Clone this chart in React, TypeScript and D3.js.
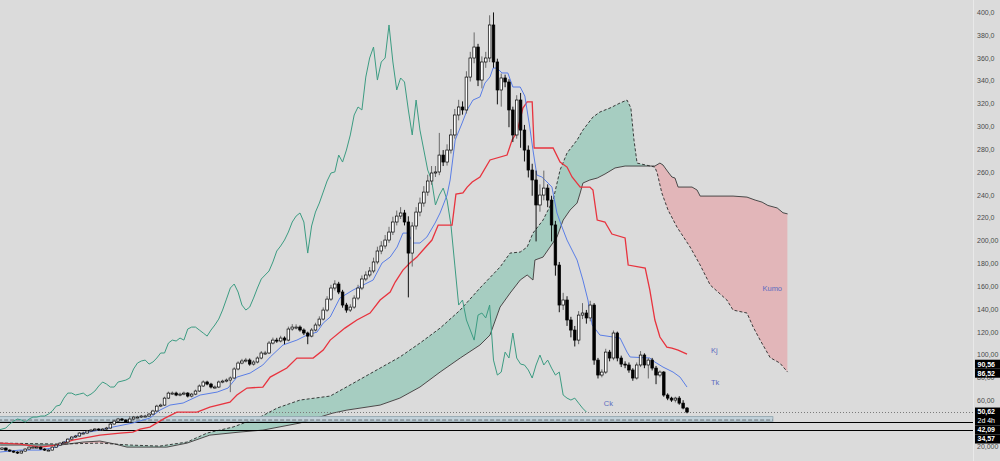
import React from 'react';
import * as d3 from 'd3';

const W = 1000;
const H = 461;

const closes = [
19.1,17.3,16.4,15.6,14.7,16.4,18.2,19.9,19.9,19.9,
18.2,17.3,17.3,19.9,21.7,23.4,24.3,26.9,28.7,29.6,
32.2,32.2,34.0,34.8,35.7,34.8,35.7,36.6,40.1,42.7,
44.5,43.6,41.8,44.5,46.2,46.2,47.1,47.1,48.8,51.5,
55.8,56.7,62.8,67.2,67.2,65.5,66.3,67.2,64.6,66.3,
69.0,73.4,76.9,75.1,72.5,72.5,76.9,77.7,78.6,80.4,
88.3,93.5,95.3,96.1,92.6,94.4,97.9,102.3,102.3,111.0,
113.6,112.8,115.4,113.6,123.3,125.0,125.0,122.4,119.8,117.1,
122.4,126.8,132.0,139.9,149.5,159.2,162.7,155.7,144.3,139.9,
142.5,150.4,159.2,167.1,170.6,174.1,182.0,191.6,196.0,201.2,
208.2,217.0,222.2,224.9,217.0,189.8,213.5,225.7,233.6,243.2,
252.9,259.9,260.8,275.6,269.5,280.0,293.2,310.7,317.7,315.1,
343.9,360.6,370.2,341.3,357.1,360.6,389.5,357.1,332.6,343.1,
339.6,315.1,293.2,323.8,297.5,280.0,262.5,253.8,231.9,240.6,
246.7,236.2,214.4,179.3,144.3,148.7,131.2,122.4,113.6,135.5,
137.3,133.0,144.3,96.1,83.0,85.6,103.1,97.9,119.8,97.9,
92.6,91.8,87.4,80.4,91.8,100.5,91.8,96.1,89.1,83.0,
85.6,65.5,62.8,61.1,62.8,58.4,54.1,50.62];

const opens = [
18.0,19.1,17.3,16.4,15.6,14.7,16.4,18.2,19.9,19.9,
19.9,18.2,17.3,17.3,19.9,21.7,23.4,24.3,26.9,28.7,
29.6,32.2,32.2,34.0,34.8,35.7,34.8,35.7,36.6,40.1,
42.7,44.5,43.6,41.8,44.5,46.2,46.2,47.1,47.1,48.8,
51.5,55.8,56.7,62.8,67.2,67.2,65.5,66.3,67.2,64.6,
66.3,69.0,73.4,76.9,75.1,72.5,72.5,76.9,77.7,78.6,
80.4,88.3,93.5,95.3,96.1,92.6,94.4,97.9,102.3,102.3,
111.0,113.6,112.8,115.4,113.6,123.3,125.0,125.0,122.4,119.8,
117.1,122.4,126.8,132.0,139.9,149.5,159.2,162.7,155.7,144.3,
139.9,142.5,150.4,159.2,167.1,170.6,174.1,182.0,191.6,196.0,
201.2,208.2,217.0,222.2,224.9,217.0,189.8,213.5,225.7,233.6,
243.2,252.9,259.9,260.8,275.6,269.5,280.0,293.2,310.7,317.7,
315.1,343.9,360.6,370.2,341.3,357.1,360.6,389.5,357.1,332.6,
343.1,339.6,315.1,293.2,323.8,297.5,280.0,262.5,253.8,231.9,
240.6,246.7,236.2,214.4,179.3,144.3,148.7,131.2,122.4,113.6,
135.5,137.3,133.0,144.3,96.1,83.0,85.6,103.1,97.9,119.8,
97.9,92.6,91.8,87.4,80.4,91.8,100.5,91.8,96.1,89.1,
83.0,85.6,65.5,62.8,61.1,62.8,58.4,54.1];

const highs = [
19.8,19.6,17.9,16.9,16.2,16.9,18.8,20.6,20.8,20.7,
20.4,18.8,18.1,20.5,22.4,24.2,25.1,27.6,29.5,30.6,
33.0,33.5,34.9,35.8,36.6,36.4,36.5,37.6,41.0,43.7,
45.5,45.4,44.2,47.0,47.2,47.3,48.1,48.2,49.9,52.6,
57.0,58.0,64.0,68.5,68.6,68.4,67.6,68.5,68.0,67.4,
70.2,74.8,78.3,78.0,76.2,73.9,78.2,79.0,80.0,81.8,
89.8,95.0,97.2,98.0,97.5,96.0,99.4,104.0,104.2,112.8,
115.8,115.6,117.4,116.8,125.4,127.6,127.4,126.4,123.8,121.0,
124.2,128.8,134.4,142.2,152.0,162.0,166.0,164.6,157.6,146.2,
145.0,152.8,162.0,170.2,173.8,177.6,185.8,195.4,200.2,205.6,
212.8,221.6,227.0,230.0,227.6,222.0,216.8,230.0,238.4,248.4,
258.4,266.0,266.0,295.0,280.0,285.0,298.4,316.0,324.0,322.6,
349.0,366.0,383.0,373.0,362.0,366.0,398.0,400.5,360.0,347.0,
346.0,342.0,318.0,328.0,330.0,302.0,284.0,268.0,262.0,250.0,
262.0,250.0,240.0,218.0,182.0,155.0,152.0,134.0,126.0,139.0,
146.0,140.0,148.0,146.0,98.0,88.0,106.0,105.0,122.0,121.0,
100.0,95.0,94.0,89.0,94.0,104.0,102.0,98.0,98.0,91.0,
87.0,86.5,67.0,64.0,64.0,64.5,61.0,55.0];

const lows = [
17.4,16.8,15.8,14.9,13.9,14.2,15.9,17.7,19.1,19.0,
17.6,16.6,16.5,17.0,19.3,21.1,22.8,23.8,26.3,28.0,
29.0,31.3,31.6,33.2,34.0,34.0,34.1,35.0,36.0,39.5,
42.0,42.8,41.0,41.2,43.8,45.2,45.4,46.2,46.4,48.1,
50.8,54.9,56.0,62.0,65.8,64.5,64.4,65.3,63.4,63.4,
65.4,68.2,72.6,74.0,71.3,71.1,71.6,75.8,76.6,68.0,
79.6,87.2,92.4,94.0,91.2,91.3,93.2,96.8,100.6,101.4,
109.8,111.2,111.6,110.0,112.6,121.8,123.0,121.0,118.0,110.0,
116.0,121.2,125.4,130.8,138.4,148.0,157.0,153.8,142.0,137.6,
138.2,141.0,148.6,157.4,165.2,168.6,172.2,180.0,188.8,193.6,
198.8,205.6,214.0,219.6,214.0,151.0,178.0,210.4,222.0,230.4,
240.0,249.6,256.4,258.0,266.0,266.4,277.0,290.0,306.0,311.0,
312.0,340.0,356.0,336.0,334.0,352.0,357.0,352.0,320.0,318.0,
335.0,300.0,287.0,290.0,282.0,270.0,256.0,240.0,200.0,226.0,
236.0,230.0,200.0,170.0,138.0,140.0,126.0,116.0,108.0,110.0,
132.0,128.0,130.0,92.0,80.0,81.0,84.0,95.0,96.0,95.0,
90.0,89.0,85.0,78.0,79.0,90.0,89.0,80.0,87.0,75.0,
81.0,64.0,61.0,59.5,59.0,57.0,53.0,49.5];

// Ichimoku lines: [bar index, price]
const tenkan = [[-0.5,15.6],[4.65,17.3],[9.8,17.3],[14.2,19.9],[16.8,26.1],[20.9,32.2],[25.3,34.8],[28.7,37.5],[33.8,41.0],[38.2,45.3],[40.8,52.3],[43.4,56.7],[46.8,58.5],[51.2,65.5],[55.6,68.1],[58.4,71.6],[60.7,81.2],[64.1,84.7],[67.4,91.8],[69.3,98.8],[72.6,109.3],[76.2,113.6],[78.8,118.0],[81.4,120.6],[83.0,128.5],[84.8,133.8],[87.3,150.4],[90.7,157.4],[93.3,161.8],[95.9,166.2],[98.2,181.1],[100.3,186.3],[102.1,195.1],[103.6,207.3],[104.9,207.3],[106.2,198.6],[108.0,198.6],[109.8,203.9],[111.9,216.1],[113.2,224.9],[115.0,240.6],[115.8,253.8],[117.1,288.8],[118.9,303.7],[120.2,315.1],[121.7,323.8],[123.5,326.5],[124.8,338.7],[126.1,344.0],[126.9,351.8],[127.9,351.8],[129.2,347.5],[130.7,347.5],[132.0,335.2],[133.9,335.2],[135.1,327.3],[136.4,299.3],[137.2,280.0],[138.2,258.1],[139.5,256.4],[141.1,251.1],[142.1,247.6],[143.4,224.9],[144.7,212.6],[146.0,201.2],[148.6,183.7],[150.1,166.2],[151.4,148.7],[152.5,126.8],[154.5,118.0],[157.9,116.3],[159.7,115.4],[161.5,103.1],[162.3,98.8],[167.4,97.9],[168.7,94.4],[170.8,90.0],[173.4,85.6],[175.2,81.2],[177.0,72.5]];

const kijun = [[-0.5,23.4],[4.65,22.6],[9.8,19.9],[14.2,21.7],[18.3,26.1],[25.3,30.4],[30.5,32.2],[33.8,33.1],[35.7,35.7],[38.2,37.5],[40.8,42.7],[42.1,45.3],[45.2,50.6],[50.4,50.6],[53.7,55.0],[58.9,59.3],[60.7,65.5],[63.3,71.6],[67.4,72.5],[69.3,81.2],[73.6,89.1],[76.2,97.9],[80.4,97.9],[83.0,104.9],[84.8,113.6],[88.6,124.1],[91.7,131.2],[95.1,137.3],[97.7,148.7],[100.3,155.7],[101.6,164.4],[103.6,174.9],[105.4,181.1],[107.2,186.3],[108.8,192.5],[111.1,201.2],[112.7,214.3],[116.3,214.3],[117.3,241.5],[119.1,242.4],[120.2,247.6],[121.5,252.0],[123.5,256.4],[126.1,271.3],[130.5,275.6],[131.8,288.8],[133.1,295.8],[134.6,316.8],[135.7,322.1],[137.0,322.1],[137.5,281.8],[142.4,281.8],[144.2,269.5],[146.0,265.1],[147.3,256.4],[149.4,247.6],[151.9,247.6],[152.7,245.0],[153.8,218.7],[155.8,217.0],[157.6,206.5],[161.0,203.0],[161.8,179.3],[166.2,176.7],[167.4,157.4],[168.7,131.2],[170.0,116.3],[171.8,107.5],[173.1,106.6],[174.7,104.9],[177.0,101.4]];

const spanA = [[-0.5,23.4],[15.0,22.6],[25.3,23.4],[33.1,21.7],[40.8,20.8],[47.8,24.3],[53.0,32.2],[59.7,37.5],[66.7,46.2],[71.1,54.1],[77.0,61.1],[84.8,64.6],[89.9,74.2],[97.7,89.1],[102.8,98.8],[108.0,111.0],[113.2,124.1],[118.4,139.9],[123.5,159.2],[128.7,177.6],[131.3,189.8],[133.9,190.7],[135.7,195.1],[137.2,207.3],[139.8,218.7],[142.4,236.2],[144.2,262.5],[146.0,277.4],[148.6,288.8],[150.1,297.5],[152.7,308.9],[154.5,313.3],[157.1,316.8],[159.7,321.2],[161.5,323.8],[162.5,316.8],[163.3,288.8],[164.1,268.6],[168.7,265.1],[169.3,259.9],[170.5,242.4],[172.1,227.5],[174.4,212.6],[177.8,195.1],[180.4,179.3],[183.0,161.8],[187.3,148.7],[188.9,139.9],[192.5,137.3],[194.1,125.0],[195.9,113.6],[198.5,98.2],[201.0,93.5],[203.0,85.6]];

const spanB = [[-0.5,21.7],[15.0,21.7],[20.9,24.3],[25.3,25.2],[29.2,22.6],[32.3,19.9],[42.6,19.9],[47.8,23.4],[53.7,30.4],[61.5,33.1],[67.4,34.8],[77.0,41.0],[85.5,49.7],[89.1,52.3],[97.7,56.7],[102.8,62.8],[108.0,72.5],[113.2,85.6],[118.4,97.9],[123.5,109.3],[126.1,118.0],[128.7,142.5],[131.3,154.8],[133.9,166.2],[135.7,170.6],[137.2,166.2],[137.7,183.7],[139.8,186.3],[141.6,195.1],[143.4,203.8],[145.0,218.7],[146.8,227.5],[148.6,233.6],[149.4,242.4],[150.1,251.1],[151.9,253.8],[153.8,255.5],[155.8,259.0],[158.4,264.3],[161.0,266.0],[168.7,266.0],[170.0,268.6],[170.8,266.9],[172.1,260.8],[173.1,256.4],[173.9,255.5],[174.7,247.6],[178.3,247.6],[179.6,245.0],[180.4,239.7],[188.9,239.7],[192.5,238.8],[194.6,236.2],[196.4,234.4],[197.9,231.5],[200.3,229.3],[201.8,225.1],[203.0,224.1]];

const CHIKOU_SHIFT = 26;

const tickValues = [20,60,80,100,120,140,160,180,200,220,240,260,280,300,320,340,360,380,400];
const tickLabels = ['20,000','60,00','80,00','100,00','120,00','140,00','160,00','180,00','200,00','220,0','240,0','260,0','280,0','300,0','320,0','340,0','360,0','380,0','400,0'];

const priceTags = [
  { label: '90,56', value: 90.56, sub: '', fixed: false },
  { label: '86,52', value: 86.52, sub: '', fixed: false },
  { label: '50,62', value: 50.62, sub: '2d 4h', fixed: true },
  { label: '42,09', value: 42.09, sub: '', fixed: false },
  { label: '34,57', value: 34.57, sub: '', fixed: false },
];

const levelLines = [42.09, 34.57];
const lastPrice = 50.62;
const band = { from: -1, to: 199.2, top: 46.6, bottom: 42.5, mid: 43.6 };

const lineLabels = [
  { text: 'Kj', index: 183.2, value: 104.0 },
  { text: 'Tk', index: 183.2, value: 76.0 },
  { text: 'Ck', index: 155.5, value: 57.5 },
  { text: 'Kumo', index: 196.5, value: 158.0 },
];

export default function App() {
  const x = d3.scaleLinear().domain([0, 177]).range([2, 687]);
  const y = d3.scaleLinear().domain([20, 400]).range([447, 13]);
  const axisX = 973;

  const line = d3.line<number[]>().x(d => x(d[0])).y(d => y(d[1]));
  const chikouPts = closes.map((c, i) => [i - CHIKOU_SHIFT, c]);

  const pA = spanA.map(d => [x(d[0]), y(d[1])]);
  const pB = spanB.map(d => [x(d[0]), y(d[1])]);
  const toPath = (pts: number[][]) => 'M' + pts.map(p => p[0].toFixed(2) + ',' + p[1].toFixed(2)).join('L') + 'Z';
  const cloudPoly = toPath([...pA, ...pB.slice().reverse()]);
  const xL = pB[0][0], xR = pB[pB.length - 1][0];
  const clipAbove = toPath([...pB, [xR, -10], [xL, -10]]);
  const clipBelow = toPath([...pB, [xR, H + 10], [xL, H + 10]]);

  // price tag layout
  const bh = 9;
  const tags = priceTags.map(t => ({ ...t, h: t.sub ? bh * 2 : bh, cy: y(t.value) }));
  tags.sort((a, b) => a.cy - b.cy);
  const clusters: any[][] = [];
  tags.forEach(t => {
    const last = clusters[clusters.length - 1];
    if (last) {
      const p = last[last.length - 1];
      if (p.cy - bh / 2 + p.h > t.cy - bh / 2 - 0.5) { last.push(t); return; }
    }
    clusters.push([t]);
  });
  const placed: any[] = [];
  clusters.forEach(cl => {
    const fixedIdx = cl.findIndex(t => t.fixed);
    const tops: number[] = [];
    if (fixedIdx >= 0) {
      let top = cl[fixedIdx].cy - bh / 2;
      const start = top;
      for (let k = fixedIdx; k < cl.length; k++) { tops[k] = top; top += cl[k].h; }
      top = start;
      for (let k = fixedIdx - 1; k >= 0; k--) { top -= cl[k].h; tops[k] = top; }
    } else {
      const total = cl.reduce((s, t) => s + t.h, 0);
      const mean = d3.mean(cl, t => t.cy) as number;
      let top = mean - total / 2;
      cl.forEach((t, k) => { tops[k] = top; top += t.h; });
    }
    cl.forEach((t, k) => placed.push({ ...t, top: tops[k] }));
  });

  const font = '"Liberation Sans", Arial, sans-serif';

  return (
    <svg width={W} height={H} style={{ position: 'absolute', left: 0, top: 0, background: '#dbdbdb' }} fontFamily={font}>
      <defs>
        <clipPath id="cAbove"><path d={clipAbove} /></clipPath>
        <clipPath id="cBelow"><path d={clipBelow} /></clipPath>
        <clipPath id="plot"><rect x={0} y={0} width={axisX} height={H} /></clipPath>
      </defs>
      <rect x={0} y={0} width={W} height={H} fill="#dbdbdb" />
      <g clipPath="url(#plot)">
        {/* cloud */}
        <path d={cloudPoly} fill="#a6cdc1" clipPath="url(#cAbove)" />
        <path d={cloudPoly} fill="#e2b6b9" clipPath="url(#cBelow)" />
        <path d={line(spanB as any) || ''} fill="none" stroke="#3a3a3a" strokeWidth={0.9} />
        <path d={line(spanA as any) || ''} fill="none" stroke="#2a2a2a" strokeWidth={0.9} strokeDasharray="3,2" />

        {/* band */}
        <rect x={x(band.from)} y={y(band.top)} width={x(band.to) - x(band.from)} height={y(band.bottom) - y(band.top)} fill="#c2d2da" stroke="#8ea3ad" strokeWidth={0.8} />
        <line x1={x(band.from)} x2={x(band.to)} y1={y(band.mid)} y2={y(band.mid)} stroke="#6d7378" strokeWidth={1} strokeDasharray="4,2" />

        {/* level lines */}
        {levelLines.map((v, i) => (
          <line key={'lv' + i} x1={0} x2={axisX} y1={Math.round(y(v)) + 0.5} y2={Math.round(y(v)) + 0.5} stroke="#000" strokeWidth={1} />
        ))}
        <line x1={0} x2={axisX} y1={Math.round(y(lastPrice)) + 0.5} y2={Math.round(y(lastPrice)) + 0.5} stroke="#7a7a7a" strokeWidth={1} strokeDasharray="1,2" />

        {/* chikou */}
        <path d={line(chikouPts) || ''} fill="none" stroke="#3c9c82" strokeWidth={1} />
        {/* kijun */}
        <path d={line(kijun as any) || ''} fill="none" stroke="#e8333e" strokeWidth={1.3} />
        {/* tenkan */}
        <path d={line(tenkan as any) || ''} fill="none" stroke="#5a7ee6" strokeWidth={1} />

        {/* candles */}
        {closes.map((c, i) => {
          const o = opens[i];
          const up = c >= o;
          const cx = x(i);
          const top = y(Math.max(o, c));
          const bot = y(Math.min(o, c));
          const hgt = Math.max(1, bot - top);
          return (
            <g key={'c' + i}>
              <line x1={cx} x2={cx} y1={y(highs[i])} y2={y(lows[i])} stroke={up ? '#6a6a6a' : '#111'} strokeWidth={1} />
              <rect x={cx - 1.3} y={top} width={2.6} height={hgt} fill={up ? '#fff' : '#000'} stroke="#000" strokeWidth={0.7} />
            </g>
          );
        })}

        {lineLabels.map((l, i) => (
          <text key={'ll' + i} x={x(l.index)} y={y(l.value)} fontSize={7.5} fill="#5b6cc0" dominantBaseline="middle">{l.text}</text>
        ))}
      </g>

      {/* axis */}
      <line x1={axisX + 0.5} x2={axisX + 0.5} y1={0} y2={H} stroke="#e9e9e9" strokeWidth={1} />
      {tickValues.map((v, i) => (
        <text key={'t' + i} x={977} y={y(v)} fontSize={7} fill="#4a4a4a" dominantBaseline="middle">{tickLabels[i]}</text>
      ))}
      {placed.map((t, i) => (
        <g key={'pt' + i}>
          <rect x={975} y={t.top} width={25} height={t.h} fill="#000" />
          <text x={977.5} y={t.top + bh / 2 + 0.5} fontSize={7} fill="#fff" fontWeight="bold" dominantBaseline="middle">{t.label}</text>
          {t.sub ? <text x={977.5} y={t.top + bh * 1.5 + 0.5} fontSize={7} fill="#fff" dominantBaseline="middle">{t.sub}</text> : null}
        </g>
      ))}
    </svg>
  );
}
